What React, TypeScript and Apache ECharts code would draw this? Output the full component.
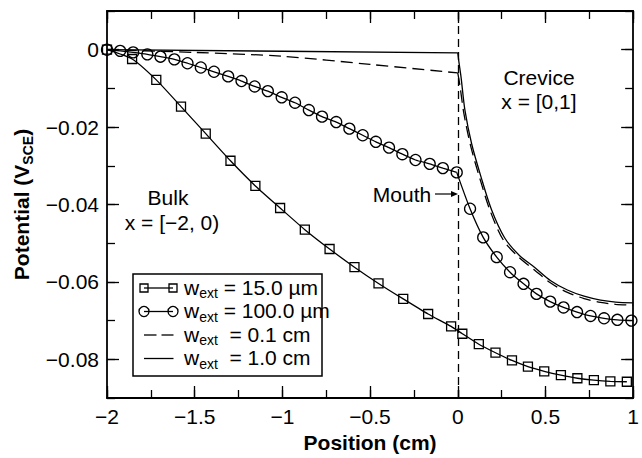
import React, { useEffect, useRef } from "react";
import * as echarts from "echarts";

const FONT = "'Liberation Sans', Arial, Helvetica, sans-serif";

// Tick labels
const yMajorTicks = [-0.08, -0.06, -0.04, -0.02, 0];

// w_ext = 15.0 µm (squares)
const squareX = [-2, -1.857, -1.719, -1.578, -1.437, -1.296, -1.154, -1.013, -0.872, -0.731, -0.589, -0.452, -0.311, -0.169, -0.038, 0.026, 0.12, 0.215, 0.309, 0.4, 0.493, 0.588, 0.682, 0.776, 0.87, 0.964];
const squareY = [0, -0.0024, -0.0078, -0.0147, -0.0217, -0.0287, -0.0352, -0.0409, -0.0465, -0.0515, -0.0562, -0.0604, -0.0644, -0.0683, -0.0715, -0.0734, -0.0761, -0.0783, -0.0803, -0.0819, -0.0831, -0.0841, -0.0849, -0.0854, -0.0857, -0.0858];

// w_ext = 100.0 µm (circles), bulk part
const circleBulkX = [-2, -1.925, -1.851, -1.77, -1.695, -1.616, -1.541, -1.465, -1.39, -1.309, -1.233, -1.158, -1.083, -1.004, -0.928, -0.849, -0.774, -0.693, -0.618, -0.542, -0.467, -0.392, -0.316, -0.241, -0.16, -0.085, -0.006];
const circleBulkY = [0, -0.0003, -0.0007, -0.0012, -0.0018, -0.0025, -0.0035, -0.0046, -0.0057, -0.0069, -0.0081, -0.0095, -0.0107, -0.0123, -0.0137, -0.0156, -0.0173, -0.0187, -0.0204, -0.0221, -0.0238, -0.0253, -0.027, -0.0285, -0.0295, -0.0306, -0.0317];
// circles, crevice part (first value is the mouth, x = 0)
const circleCrevX = [-0.006, 0.07, 0.145, 0.222, 0.298, 0.375, 0.449, 0.527, 0.603, 0.68, 0.757, 0.834, 0.91, 0.99];
const circleCrevY = [-0.0317, -0.0411, -0.0485, -0.0536, -0.0575, -0.0605, -0.0631, -0.0651, -0.0666, -0.0678, -0.0688, -0.0694, -0.0698, -0.07];

// w_ext = 0.1 cm (dashed)
const dashBulkX = [-2, -1.5, -1, -0.5, 0];
const dashBulkY = [0, -0.0007, -0.0017, -0.0038, -0.006];
const dashCrevX = [0, 0.012, 0.035, 0.073, 0.126, 0.186, 0.26, 0.35, 0.437, 0.53, 0.625, 0.72, 0.814, 0.9, 1.0];
const dashCrevY = [-0.006, -0.0092, -0.0165, -0.0248, -0.0333, -0.0418, -0.0492, -0.0537, -0.0569, -0.0603, -0.0627, -0.0643, -0.0653, -0.0658, -0.066];

// w_ext = 1.0 cm (solid)
const solidBulkX = [-2, -1, 0];
const solidBulkY = [0, -0.0004, -0.0008];
const solidCrevX = [0, 0.006, 0.019, 0.041, 0.079, 0.132, 0.192, 0.267, 0.35, 0.437, 0.53, 0.625, 0.72, 0.814, 0.9, 1.0];
const solidCrevY = [-0.0008, -0.003, -0.0072, -0.0157, -0.0243, -0.0328, -0.0413, -0.0486, -0.0531, -0.0562, -0.0597, -0.0621, -0.0637, -0.0647, -0.0652, -0.0654];

const legendLabels = ["15.0 \u00b5m", "100.0 \u00b5m", "0.1 cm", "1.0 cm"];

const zip = (xs: number[], ys: number[]) => xs.map((x, i) => [x, ys[i]]);

const fmtX = (v: number) => (v === 0 ? "0" : (v < 0 ? "\u2212" : "") + String(Math.abs(v)));
const fmtY = (v: number) => (Math.abs(v) < 1e-9 ? "0" : (v < 0 ? "\u2212" : "") + Math.abs(v).toFixed(2));

const BLACK = "#000";

export default function App() {
  const ref = useRef<HTMLDivElement>(null);
  useEffect(() => {
    if (!ref.current) return;
    const chart = echarts.init(ref.current, null, { renderer: "svg" });

    const axisLine = { show: true, onZero: false, lineStyle: { color: BLACK, width: 1.8 } };
    const noLine = { show: false, onZero: false };
    const tickMajor = { show: true, inside: true, length: 12, lineStyle: { color: BLACK, width: 1.3 } };
    const tickMinor = { show: true, inside: true, length: 8, lineStyle: { color: BLACK, width: 1.3 } };

    const xBase = { type: "value", min: -2, max: 1, splitLine: { show: false } };
    const yBase = { type: "value", min: -0.09, max: 0.01, splitLine: { show: false } };

    const rowsY = [288, 311.5, 335, 358.5];
    const richLegend = {
      w: { fontSize: 21, lineHeight: 26, fontFamily: FONT, color: BLACK },
      s: { fontSize: 14, lineHeight: 13, verticalAlign: "bottom", fontFamily: FONT, color: BLACK },
      t: { fontSize: 21, lineHeight: 26, fontFamily: FONT, color: BLACK },
    };
    const legendTexts = legendLabels.map((lab, i) => ({
      type: "text",
      z: 11,
      style: {
        text: "{w|w}{s|ext}{t|" + (i >= 2 ? "  = " : " = ") + lab + "}",
        rich: richLegend,
        x: 184,
        y: rowsY[i] - 1,
        verticalAlign: "middle",
        align: "left",
      },
    }));

    const plain = { color: BLACK, width: 1.3 };
    const dashed = { color: BLACK, width: 1.3, type: [12, 6] };
    const hollow = { color: "rgba(0,0,0,0)", borderColor: BLACK, borderWidth: 1.3 };

    const option: any = {
      animation: false,
      backgroundColor: "#fff",
      textStyle: { fontFamily: FONT, color: BLACK },
      grid: { left: 107, right: 4, top: 11, bottom: 57 },
      xAxis: [
        {
          ...xBase,
          position: "bottom",
          interval: 0.5,
          axisLine,
          axisTick: tickMajor,
          axisLabel: { show: true, formatter: fmtX, fontSize: 21, color: BLACK, margin: 8, fontFamily: FONT },
          name: "Position (cm)",
          nameLocation: "middle",
          nameGap: 34,
          nameTextStyle: { fontSize: 21, fontWeight: "bold", color: BLACK, fontFamily: FONT },
        },
        { ...xBase, position: "bottom", interval: 0.25, axisLine: noLine, axisTick: tickMinor, axisLabel: { show: false } },
        { ...xBase, position: "top", interval: 0.5, axisLine, axisTick: tickMajor, axisLabel: { show: false } },
        { ...xBase, position: "top", interval: 0.25, axisLine: noLine, axisTick: tickMinor, axisLabel: { show: false } },
      ],
      yAxis: [
        {
          ...yBase,
          position: "left",
          axisLine,
          axisTick: { ...tickMajor, customValues: yMajorTicks },
          axisLabel: { show: true, customValues: yMajorTicks, formatter: fmtY, fontSize: 21, color: BLACK, margin: 8, fontFamily: FONT },
          name: "{b|Potential (V}{s|SCE}{b|)}",
          nameLocation: "middle",
          nameGap: 66,
          nameRotate: 90,
          nameTextStyle: {
            fontSize: 21,
            fontWeight: "bold",
            color: BLACK,
            fontFamily: FONT,
            rich: {
              b: { fontSize: 21, fontWeight: "bold", lineHeight: 26, fontFamily: FONT, color: BLACK },
              s: { fontSize: 14, fontWeight: "bold", lineHeight: 13, verticalAlign: "bottom", fontFamily: FONT, color: BLACK },
            },
          },
        },
        { ...yBase, position: "left", interval: 0.01, axisLine: noLine, axisTick: tickMinor, axisLabel: { show: false } },
        { ...yBase, position: "right", axisLine, axisTick: { ...tickMajor, customValues: yMajorTicks }, axisLabel: { show: false } },
        { ...yBase, position: "right", interval: 0.01, axisLine: noLine, axisTick: tickMinor, axisLabel: { show: false } },
      ],
      series: [
        {
          type: "line",
          name: "w_ext = 1.0 cm (bulk)",
          data: zip(solidBulkX, solidBulkY),
          symbol: "none",
          lineStyle: plain,
          markLine: {
            silent: true,
            symbol: ["none", "none"],
            label: { show: false },
            lineStyle: { type: [8, 5], color: BLACK, width: 1.3 },
            data: [{ xAxis: 0 }],
          },
        },
        {
          type: "line",
          name: "w_ext = 1.0 cm (crevice)",
          data: zip(solidCrevX, solidCrevY),
          symbol: "none",
          smooth: 0.3,
          lineStyle: plain,
        },
        {
          type: "line",
          name: "w_ext = 0.1 cm (bulk)",
          data: zip(dashBulkX, dashBulkY),
          symbol: "none",
          smooth: 0.3,
          lineStyle: dashed,
        },
        {
          type: "line",
          name: "w_ext = 0.1 cm (crevice)",
          data: zip(dashCrevX, dashCrevY),
          symbol: "none",
          smooth: 0.3,
          lineStyle: dashed,
        },
        {
          type: "line",
          name: "w_ext = 100.0 µm (bulk)",
          data: zip(circleBulkX, circleBulkY),
          symbol: "circle",
          symbolSize: 11,
          showAllSymbol: true,
          smooth: 0.2,
          lineStyle: plain,
          itemStyle: hollow,
        },
        {
          type: "line",
          name: "w_ext = 100.0 µm (crevice)",
          data: zip(circleCrevX, circleCrevY),
          symbol: (v: any, p: any) => (p.dataIndex === 0 ? "none" : "circle"),
          symbolSize: 11,
          showAllSymbol: true,
          smooth: 0.25,
          lineStyle: plain,
          itemStyle: hollow,
        },
        {
          type: "line",
          name: "w_ext = 15.0 µm",
          data: zip(squareX, squareY),
          symbol: "rect",
          symbolSize: 9,
          showAllSymbol: true,
          smooth: 0.2,
          lineStyle: plain,
          itemStyle: hollow,
        },
      ],
      graphic: [
        { type: "text", style: { text: "Bulk", x: 168, y: 197, align: "center", verticalAlign: "middle", fontSize: 21, fontFamily: FONT, fill: BLACK } },
        { type: "text", style: { text: "x = [\u22122, 0)", x: 172, y: 222, align: "center", verticalAlign: "middle", fontSize: 21, fontFamily: FONT, fill: BLACK } },
        { type: "text", style: { text: "Crevice", x: 539, y: 77, align: "center", verticalAlign: "middle", fontSize: 21, fontFamily: FONT, fill: BLACK } },
        { type: "text", style: { text: "x = [0,1]", x: 539, y: 101, align: "center", verticalAlign: "middle", fontSize: 21, fontFamily: FONT, fill: BLACK } },
        { type: "text", style: { text: "Mouth", x: 402, y: 194, align: "center", verticalAlign: "middle", fontSize: 21, fontFamily: FONT, fill: BLACK } },
        { type: "line", shape: { x1: 435, y1: 194, x2: 453, y2: 194 }, style: { stroke: BLACK, lineWidth: 1.2 } },
        { type: "polygon", shape: { points: [[458, 194], [451, 191], [451, 197]] }, style: { fill: BLACK } },
        // legend box
        { type: "rect", shape: { x: 133, y: 274, width: 189, height: 102 }, style: { fill: "#fff", stroke: BLACK, lineWidth: 1.5 }, z: 10 },
        { type: "line", shape: { x1: 144, y1: rowsY[0], x2: 173, y2: rowsY[0] }, style: { stroke: BLACK, lineWidth: 1.3 }, z: 11 },
        { type: "rect", shape: { x: 140, y: rowsY[0] - 4, width: 8, height: 8 }, style: { fill: "none", stroke: BLACK, lineWidth: 1.3 }, z: 11 },
        { type: "rect", shape: { x: 169, y: rowsY[0] - 4, width: 8, height: 8 }, style: { fill: "none", stroke: BLACK, lineWidth: 1.3 }, z: 11 },
        { type: "line", shape: { x1: 144, y1: rowsY[1], x2: 173, y2: rowsY[1] }, style: { stroke: BLACK, lineWidth: 1.3 }, z: 11 },
        { type: "circle", shape: { cx: 144, cy: rowsY[1], r: 5 }, style: { fill: "none", stroke: BLACK, lineWidth: 1.3 }, z: 11 },
        { type: "circle", shape: { cx: 173, cy: rowsY[1], r: 5 }, style: { fill: "none", stroke: BLACK, lineWidth: 1.3 }, z: 11 },
        { type: "line", shape: { x1: 144, y1: rowsY[2], x2: 156.5, y2: rowsY[2] }, style: { stroke: BLACK, lineWidth: 1.3 }, z: 11 },
        { type: "line", shape: { x1: 161.5, y1: rowsY[2], x2: 173.5, y2: rowsY[2] }, style: { stroke: BLACK, lineWidth: 1.3 }, z: 11 },
        { type: "line", shape: { x1: 144, y1: rowsY[3], x2: 173.5, y2: rowsY[3] }, style: { stroke: BLACK, lineWidth: 1.3 }, z: 11 },
        ...legendTexts,
      ],
    };
    chart.setOption(option);
    return () => chart.dispose();
  }, []);
  return (
    <div
      ref={ref}
      style={{ position: "fixed", left: 0, top: 0, width: 642, height: 458, background: "#fff" }}
    />
  );
}
